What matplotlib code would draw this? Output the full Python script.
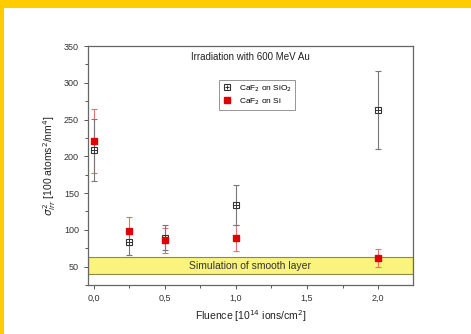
import numpy as np
import matplotlib
matplotlib.use("Agg")
import matplotlib.pyplot as plt
from matplotlib.patches import Rectangle
from matplotlib.ticker import MultipleLocator, FuncFormatter

# data
fluence = [0.0, 0.25, 0.5, 1.0, 2.0]
sio2_val = [209, 83, 89, 134, 263]
sio2_err = [42, 17, 17, 27, 53]
si_val = [221, 99, 86, 89, 62]
si_err = [44, 19, 17, 18, 12]
band_lo, band_hi = 40, 63

plt.rcParams['font.family'] = ['Liberation Sans', 'DejaVu Sans']

fig = plt.figure(figsize=(4.71, 3.34), dpi=100)
fig.patch.set_facecolor('white')
# yellow frame, top and left
fig.patches.append(Rectangle((0, 1 - 8 / 334), 1, 8 / 334, transform=fig.transFigure,
                             facecolor='#ffcc00', edgecolor='none', zorder=0))
fig.patches.append(Rectangle((0, 0), 4 / 471, 1, transform=fig.transFigure,
                             facecolor='#ffcc00', edgecolor='none', zorder=0))

ax = fig.add_axes([88 / 471, 1 - 285 / 334, 325 / 471, 239 / 334])

ax.axhspan(band_lo, band_hi, facecolor='#faf47e', edgecolor='#8c8c3c', lw=0.8, zorder=1)
ax.text(0.5, (band_lo + band_hi) / 2, 'Simulation of smooth layer', transform=ax.get_yaxis_transform(),
        ha='center', va='center', fontsize=7.5, color='#333333', zorder=2)

ax.errorbar(fluence, si_val, yerr=si_err, fmt='none', ecolor='#e87070', elinewidth=0.8,
            capsize=2.5, capthick=0.8, zorder=3)
ax.errorbar(fluence, sio2_val, yerr=sio2_err, fmt='none', ecolor='#777777', elinewidth=0.8,
            capsize=2.5, capthick=0.8, zorder=3)
ax.plot(fluence, sio2_val, 's', ms=5, mfc='white', mec='#333333', mew=0.8, zorder=4)
ax.plot(fluence, sio2_val, '+', ms=4, mec='#333333', mew=0.7, zorder=5)
ax.plot(fluence, si_val, 's', ms=5, mfc='#e00000', mec='#e00000', zorder=6)

# legend handles
h1, = ax.plot([], [], 's', ms=4, mfc='white', mec='#333333', mew=0.8)
h1b, = ax.plot([], [], '+', ms=3.5, mec='#333333', mew=0.7)
h2, = ax.plot([], [], 's', ms=4, mfc='#e00000', mec='#e00000')
leg = ax.legend([(h1, h1b), h2], ['CaF$_2$ on SiO$_2$', 'CaF$_2$ on Si'],
                loc='upper left', bbox_to_anchor=(0.39, 0.875), fontsize=6, frameon=True,
                fancybox=False, edgecolor='#666666', handlelength=1.2, borderpad=0.4,
                labelspacing=0.3)
leg.get_frame().set_linewidth(0.6)

ax.text(0.5, 0.955, 'Irradiation with 600 MeV Au', transform=ax.transAxes, ha='center',
        va='center', fontsize=7, color='#222222')

ax.set_xlim(-0.04, 2.245)
ax.set_ylim(25, 350)
ax.xaxis.set_major_locator(MultipleLocator(0.5))
ax.xaxis.set_minor_locator(MultipleLocator(0.25))
ax.yaxis.set_major_locator(MultipleLocator(50))
ax.yaxis.set_minor_locator(MultipleLocator(25))
ax.xaxis.set_major_formatter(FuncFormatter(lambda v, p: f'{v:.1f}'.replace('.', ',')))
ax.set_yticks([50, 100, 150, 200, 250, 300, 350])
ax.tick_params(which='both', direction='out', colors='#555555', labelcolor='#333333',
               labelsize=6.5, width=0.7)
ax.tick_params(which='major', length=3)
ax.tick_params(which='minor', length=2)
for s in ax.spines.values():
    s.set_color('#666666')
    s.set_linewidth(0.9)

ax.set_xlabel('Fluence [10$^{14}$ ions/cm$^2$]', fontsize=7.5, color='#222222', labelpad=4)
ax.set_ylabel(r'$\sigma^2_{irr}$ [100 atoms$^2$/nm$^4$]', fontsize=7.5, color='#222222', labelpad=4)

fig.savefig('out.png', dpi=100)
